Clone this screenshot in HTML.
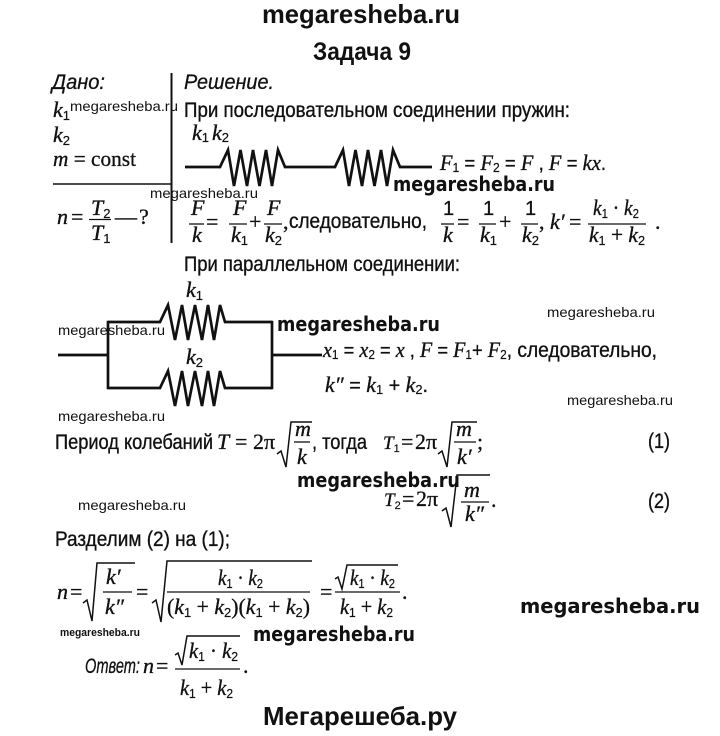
<!DOCTYPE html>
<html><head><meta charset="utf-8">
<style>
html,body{margin:0;padding:0;background:#fff;}
svg{display:block;}
text{fill:#111;}
.m{font-family:"Liberation Serif",serif;font-style:italic;font-size:22px;stroke:#111;stroke-width:0.35px;}
.r{font-family:"Liberation Serif",serif;font-style:normal;font-size:22px;stroke:#111;stroke-width:0.3px;}
.sub{font-family:"Liberation Sans",sans-serif;font-style:normal;font-size:13px;stroke:#111;stroke-width:0.2px;}
.s{font-family:"Liberation Sans",sans-serif;font-style:normal;font-size:20px;stroke:#111;stroke-width:0.3px;}
.t{font-family:"Liberation Sans",sans-serif;font-size:21px;stroke:#111;stroke-width:0.35px;}
.ti{font-family:"Liberation Sans",sans-serif;font-style:italic;font-size:21px;stroke:#111;stroke-width:0.3px;}
.wm{font-family:"Liberation Sans",sans-serif;font-size:14px;}
.wb{font-family:"DejaVu Sans",sans-serif;font-weight:bold;font-size:20px;}
.ln{stroke:#111;fill:none;}
</style></head>
<body>
<svg width="720" height="736" viewBox="0 0 720 736" xmlns="http://www.w3.org/2000/svg">
<rect width="720" height="736" fill="#fff"/>

<!-- header -->
<text x="262" y="23" font-family="Liberation Sans" font-weight="bold" font-size="26" textLength="198" lengthAdjust="spacingAndGlyphs">megaresheba.ru</text>
<text x="313" y="60" font-family="Liberation Sans" font-weight="bold" font-size="25" textLength="98" lengthAdjust="spacingAndGlyphs">Задача 9</text>

<!-- Дано -->
<text class="ti" x="52" y="89" textLength="53" lengthAdjust="spacingAndGlyphs">Дано:</text>
<text class="ti" x="184" y="89" textLength="90" lengthAdjust="spacingAndGlyphs">Решение.</text>
<text class="m" x="53" y="117">k<tspan class="sub" dy="3">1</tspan></text>
<text class="wm" x="70" y="111" textLength="108" lengthAdjust="spacingAndGlyphs">megaresheba.ru</text>
<text class="m" x="53" y="142">k<tspan class="sub" dy="3">2</tspan></text>
<text class="m" x="53" y="166" textLength="83" lengthAdjust="spacingAndGlyphs">m<tspan class="r"> = const</tspan></text>
<line class="ln" x1="53" y1="184" x2="172" y2="184" stroke-width="1.6"/>
<line class="ln" x1="171.5" y1="73" x2="171.5" y2="243" stroke-width="2"/>
<text class="wm" x="150" y="198" textLength="108" lengthAdjust="spacingAndGlyphs">megaresheba.ru</text>
<text class="m" x="57" y="224">n</text>
<text class="r" x="71" y="224">=</text>
<text class="m" x="91" y="215">T<tspan class="sub" dy="3">2</tspan></text>
<line class="ln" x1="89" y1="219.5" x2="111" y2="219.5" stroke-width="1.3"/>
<text class="m" x="91" y="240">T<tspan class="sub" dy="3">1</tspan></text>
<text class="r" x="115" y="224">—</text>
<text class="r" x="139" y="224">?</text>

<!-- right column -->
<text class="t" x="184" y="117" textLength="386" lengthAdjust="spacingAndGlyphs">При последовательном соединении пружин:</text>
<text class="m" x="192" y="140">k<tspan class="sub" dy="2">1</tspan><tspan dx="3" dy="-2">k</tspan><tspan class="sub" dy="2">2</tspan></text>

<path class="ln" stroke-width="2.7" stroke-linejoin="miter" d="M185,167 L220,167 L228,150 L234,186 L240.5,150 L247,186 L253,150 L259.5,186 L266,150 L272,186 L278,150 L285,167 L335,167 L343,150 L349,186 L355.5,150 L362,186 L368,150 L374.5,186 L381,150 L387,186 L393,150 L400,167 L432,167"/>

<text x="440" y="170" textLength="166" lengthAdjust="spacingAndGlyphs"><tspan class="m">F</tspan><tspan class="sub" dy="2">1</tspan><tspan class="s" dy="-2"> = </tspan><tspan class="m">F</tspan><tspan class="sub" dy="2">2</tspan><tspan class="s" dy="-2"> = </tspan><tspan class="m">F</tspan><tspan class="s"> , </tspan><tspan class="m">F</tspan><tspan class="s"> = </tspan><tspan class="m">kx</tspan><tspan class="s">.</tspan></text>
<text class="wb" x="393" y="191" textLength="162" lengthAdjust="spacingAndGlyphs">megaresheba.ru</text>

<!-- equation line 2 -->
<text class="m" x="191" y="215">F</text>
<line class="ln" x1="189" y1="224" x2="204" y2="224" stroke-width="1.3"/>
<text class="m" x="192" y="242">k</text>
<text class="r" x="206" y="229">=</text>
<text class="m" x="233" y="215">F</text>
<line class="ln" x1="229" y1="224" x2="247" y2="224" stroke-width="1.3"/>
<text class="m" x="231" y="242">k<tspan class="sub" dy="3">1</tspan></text>
<text class="r" x="249" y="229">+</text>
<text class="m" x="267" y="215">F</text>
<line class="ln" x1="264" y1="224" x2="282" y2="224" stroke-width="1.3"/>
<text class="m" x="265" y="242">k<tspan class="sub" dy="3">2</tspan></text>
<text class="r" x="283" y="229">,</text>
<text class="t" x="289" y="228" textLength="138" lengthAdjust="spacingAndGlyphs">следовательно,</text>
<text class="s" x="443" y="215">1</text>
<line class="ln" x1="441" y1="224" x2="454" y2="224" stroke-width="1.3"/>
<text class="m" x="443" y="242">k</text>
<text class="r" x="457" y="229">=</text>
<text class="s" x="483" y="215">1</text>
<line class="ln" x1="479" y1="224" x2="496" y2="224" stroke-width="1.3"/>
<text class="m" x="480" y="242">k<tspan class="sub" dy="3">1</tspan></text>
<text class="r" x="499" y="229">+</text>
<text class="s" x="525" y="215">1</text>
<line class="ln" x1="521" y1="224" x2="538" y2="224" stroke-width="1.3"/>
<text class="m" x="522" y="242">k<tspan class="sub" dy="3">2</tspan></text>
<text class="r" x="539" y="229">,</text>
<text class="m" x="550" y="229">k′</text>
<text class="r" x="569" y="229">=</text>
<text class="m" x="593" y="215" textLength="46" lengthAdjust="spacingAndGlyphs">k<tspan class="sub" dy="3">1</tspan><tspan class="r" dy="-3"> · </tspan>k<tspan class="sub" dy="3">2</tspan></text>
<line class="ln" x1="588" y1="224" x2="646" y2="224" stroke-width="1.3"/>
<text class="m" x="589" y="242" textLength="56" lengthAdjust="spacingAndGlyphs">k<tspan class="sub" dy="3">1</tspan><tspan class="r" dy="-3"> + </tspan>k<tspan class="sub" dy="3">2</tspan></text>
<text class="r" x="655" y="229">.</text>

<text class="t" x="184" y="271" textLength="276" lengthAdjust="spacingAndGlyphs">При параллельном соединении:</text>

<!-- parallel diagram -->
<text class="m" x="186" y="297">k<tspan class="sub" dy="3">1</tspan></text>
<text class="m" x="186" y="364">k<tspan class="sub" dy="3">2</tspan></text>
<path class="ln" stroke-width="2.7" d="M108,322 L160,322 L168,305 L175,340 L182,305 L188,340 L195,305 L202,340 L208,305 L214,340 L220,305 L225,322 L272,322"/>
<path class="ln" stroke-width="2.7" d="M108,388 L160,388 L168,371 L175,406 L182,371 L188,406 L195,371 L202,406 L208,371 L214,406 L220,371 L225,388 L272,388"/>
<path class="ln" stroke-width="2.7" d="M108,320.7 L108,389.3 M272,320.7 L272,389.3 M58,355 L108,355 M272,355 L322,355"/>
<text class="wm" x="58" y="335" textLength="107" lengthAdjust="spacingAndGlyphs">megaresheba.ru</text>
<text class="wb" x="277" y="331" textLength="163" lengthAdjust="spacingAndGlyphs">megaresheba.ru</text>
<text class="wm" x="547" y="317" textLength="108" lengthAdjust="spacingAndGlyphs">megaresheba.ru</text>

<text x="323" y="357" textLength="334" lengthAdjust="spacingAndGlyphs"><tspan class="m">x</tspan><tspan class="sub" dy="2">1</tspan><tspan class="s" dy="-2"> = </tspan><tspan class="m">x</tspan><tspan class="sub" dy="2">2</tspan><tspan class="s" dy="-2"> = </tspan><tspan class="m">x</tspan><tspan class="s"> , </tspan><tspan class="m">F</tspan><tspan class="s"> = </tspan><tspan class="m">F</tspan><tspan class="sub" dy="2">1</tspan><tspan class="s" dy="-2">+ </tspan><tspan class="m">F</tspan><tspan class="sub" dy="2">2</tspan><tspan class="t" dy="-2">, следовательно,</tspan></text>
<text x="325" y="392" textLength="103" lengthAdjust="spacingAndGlyphs"><tspan class="m">k″</tspan><tspan class="s"> = </tspan><tspan class="m">k</tspan><tspan class="sub" dy="2">1</tspan><tspan class="s" dy="-2"> + </tspan><tspan class="m">k</tspan><tspan class="sub" dy="2">2</tspan><tspan class="s" dy="-2">.</tspan></text>
<text class="wm" x="567" y="405" textLength="106" lengthAdjust="spacingAndGlyphs">megaresheba.ru</text>
<text class="wm" x="58" y="421" textLength="107" lengthAdjust="spacingAndGlyphs">megaresheba.ru</text>

<!-- period line -->
<text class="t" x="55" y="449" textLength="158" lengthAdjust="spacingAndGlyphs">Период колебаний</text>
<text class="m" x="217" y="449">T</text>
<text class="r" x="235" y="449">=</text>
<text class="r" x="253" y="449">2π</text>
<path class="ln" stroke-width="1.5" d="M277,454 L281,451 L286,467 L291,422 L312,422"/>
<text class="m" x="295" y="436">m</text>
<line class="ln" x1="294" y1="442" x2="310" y2="442" stroke-width="1.3"/>
<text class="m" x="297" y="464">k</text>
<text class="t" x="312" y="449" textLength="55" lengthAdjust="spacingAndGlyphs">, тогда</text>
<text class="m" x="383" y="449" style="font-size:19px">T<tspan class="sub" dy="3" style="font-size:11px">1</tspan></text>
<text class="r" x="401" y="449">=</text>
<text class="r" x="415" y="449">2π</text>
<path class="ln" stroke-width="1.5" d="M438,454 L442,451 L447,467 L452,422 L477,422"/>
<text class="m" x="456" y="436">m</text>
<line class="ln" x1="454" y1="442" x2="476" y2="442" stroke-width="1.3"/>
<text class="m" x="457" y="464">k′</text>
<text class="r" x="477" y="449">;</text>
<text class="t" x="648" y="448" textLength="22" lengthAdjust="spacingAndGlyphs">(1)</text>

<text class="wb" x="297" y="487" textLength="163" lengthAdjust="spacingAndGlyphs">megaresheba.ru</text>
<text class="wm" x="78" y="510" textLength="108" lengthAdjust="spacingAndGlyphs">megaresheba.ru</text>

<text class="m" x="384" y="506" style="font-size:19px">T<tspan class="sub" dy="3" style="font-size:11px">2</tspan></text>
<text class="r" x="402" y="506">=</text>
<text class="r" x="416" y="506">2π</text>
<path class="ln" stroke-width="1.5" d="M442,511 L446,508 L451,527 L457,475 L490,475"/>
<text class="m" x="464" y="497">m</text>
<line class="ln" x1="461" y1="502" x2="489" y2="502" stroke-width="1.3"/>
<text class="m" x="465" y="521">k″</text>
<text class="r" x="491" y="507">.</text>
<text class="t" x="648" y="508" textLength="22" lengthAdjust="spacingAndGlyphs">(2)</text>

<text class="t" x="55" y="546" textLength="175" lengthAdjust="spacingAndGlyphs">Разделим (2) на (1);</text>

<!-- n line -->
<text class="m" x="57" y="599">n</text>
<text class="r" x="70" y="599">=</text>
<path class="ln" stroke-width="1.5" d="M83,603 L87,600 L92,621 L97,563 L135,563"/>
<text class="m" x="106" y="584">k′</text>
<line class="ln" x1="103" y1="592" x2="132" y2="592" stroke-width="1.3"/>
<text class="m" x="105" y="614">k″</text>
<text class="r" x="136" y="599">=</text>
<path class="ln" stroke-width="1.5" d="M152,603 L156,600 L161,622 L167,561 L312,561"/>
<text class="m" x="218" y="585" textLength="45" lengthAdjust="spacingAndGlyphs">k<tspan class="sub" dy="3">1</tspan><tspan class="r" dy="-3"> · </tspan>k<tspan class="sub" dy="3">2</tspan></text>
<line class="ln" x1="167" y1="592" x2="310" y2="592" stroke-width="1.3"/>
<text class="m" x="167" y="614" textLength="143" lengthAdjust="spacingAndGlyphs"><tspan class="r">(</tspan>k<tspan class="sub" dy="3">1</tspan><tspan class="r" dy="-3"> + </tspan>k<tspan class="sub" dy="3">2</tspan><tspan class="r" dy="-3">)(</tspan>k<tspan class="sub" dy="3">1</tspan><tspan class="r" dy="-3"> + </tspan>k<tspan class="sub" dy="3">2</tspan><tspan class="r" dy="-3">)</tspan></text>
<text class="r" x="320" y="599">=</text>
<path class="ln" stroke-width="1.5" d="M335,579 L338,577 L342,589 L347,565 L398,565"/>
<text class="m" x="350" y="585" textLength="45" lengthAdjust="spacingAndGlyphs">k<tspan class="sub" dy="3">1</tspan><tspan class="r" dy="-3"> · </tspan>k<tspan class="sub" dy="3">2</tspan></text>
<line class="ln" x1="335" y1="592" x2="400" y2="592" stroke-width="1.3"/>
<text class="m" x="340" y="614" textLength="53" lengthAdjust="spacingAndGlyphs">k<tspan class="sub" dy="3">1</tspan><tspan class="r" dy="-3"> + </tspan>k<tspan class="sub" dy="3">2</tspan></text>
<text class="r" x="402" y="599">.</text>

<text class="wb" x="520" y="613" font-size="21" textLength="180" lengthAdjust="spacingAndGlyphs">megaresheba.ru</text>
<text x="60" y="636" font-family="Liberation Sans" font-weight="bold" font-size="11" textLength="80" lengthAdjust="spacingAndGlyphs">megaresheba.ru</text>
<text class="wb" x="253" y="641" textLength="162" lengthAdjust="spacingAndGlyphs">megaresheba.ru</text>

<!-- answer -->
<text class="ti" x="85" y="673" textLength="55" lengthAdjust="spacingAndGlyphs">Ответ:</text>
<text class="m" x="143" y="673">n</text>
<text class="r" x="156" y="673">=</text>
<path class="ln" stroke-width="1.5" d="M175,655 L178,653 L182,665 L187,636 L240,636"/>
<text class="m" x="189" y="658" textLength="49" lengthAdjust="spacingAndGlyphs">k<tspan class="sub" dy="3">1</tspan><tspan class="r" dy="-3"> · </tspan>k<tspan class="sub" dy="3">2</tspan></text>
<line class="ln" x1="175" y1="669" x2="240" y2="669" stroke-width="1.3"/>
<text class="m" x="180" y="695" textLength="53" lengthAdjust="spacingAndGlyphs">k<tspan class="sub" dy="3">1</tspan><tspan class="r" dy="-3"> + </tspan>k<tspan class="sub" dy="3">2</tspan></text>
<text class="r" x="243" y="673">.</text>

<text x="263" y="725" font-family="Liberation Sans" font-weight="bold" font-size="26" textLength="194" lengthAdjust="spacingAndGlyphs">Мегарешеба.ру</text>
</svg>
</body></html>
